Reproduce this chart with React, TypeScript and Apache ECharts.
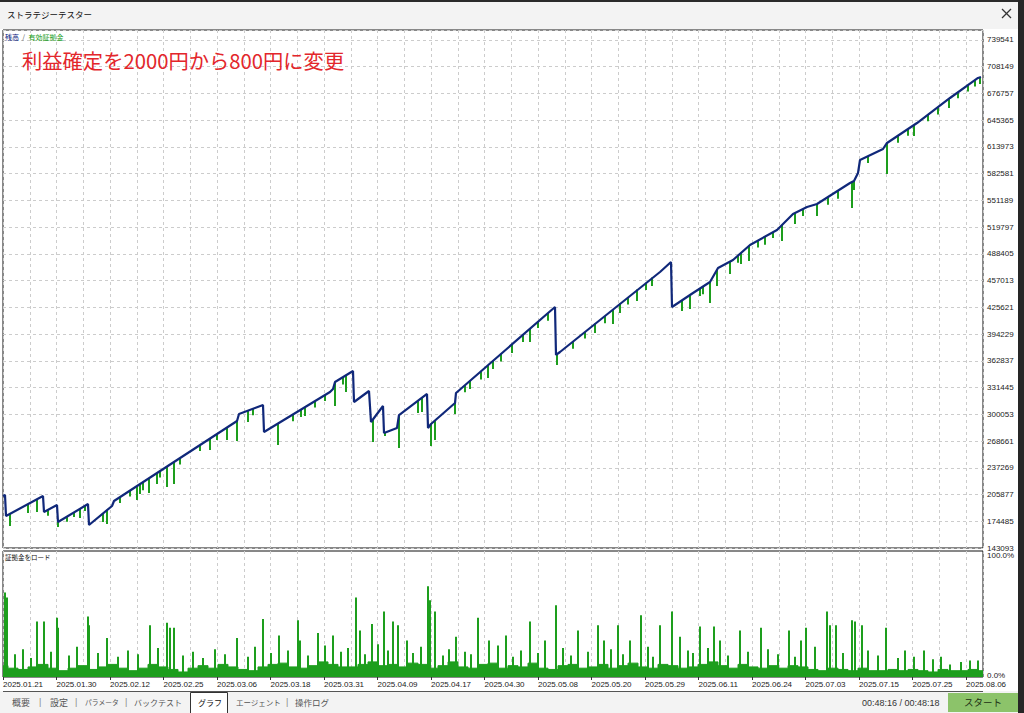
import React, { useEffect, useRef } from 'react';
import * as echarts from 'echarts';

// ---- data ----
const dateLabels = [
  '2025.01.21', '2025.01.30', '2025.02.12', '2025.02.25', '2025.03.06', '2025.03.18',
  '2025.03.31', '2025.04.09', '2025.04.17', '2025.04.30', '2025.05.08', '2025.05.20',
  '2025.05.29', '2025.06.11', '2025.06.24', '2025.07.03', '2025.07.15', '2025.07.25', '2025.08.06',
];

const balanceX = [0, 2, 3, 40, 41, 54, 55, 85, 86, 109, 111, 234, 236, 260, 261, 327, 330, 332, 350, 351,
  366, 368, 380, 381, 394, 396, 424, 425, 428, 452, 453, 552, 553, 557, 657, 668, 669, 690, 707, 715,
  730, 747, 774, 787, 790, 804, 814, 847, 851, 855, 857, 880, 884, 914, 947, 975, 978];
const balanceY = [204100, 205300, 180700, 204100, 185400, 193600, 173600, 194700, 170100, 192400,
  198300, 292200, 300400, 311000, 279300, 326200, 329800, 338000, 350900, 314500,
  327400, 291000, 309800, 278100, 284000, 299200, 323900, 284000, 288700, 313300,
  325100, 426000, 369700, 373200, 467100, 478900, 426000, 442500, 455400, 471800,
  481200, 498800, 516400, 531700, 535200, 543400, 546900, 571600, 574000, 583300,
  598600, 611500, 618600, 642000, 671400, 694900, 696000];

// equity dips: deal, equity before dip, equity low
const dipX = [7, 25, 34, 55, 71, 77, 100, 104, 134, 137, 146, 154, 164, 171, 207, 224, 234, 245, 275, 302,
  322, 332, 343, 370, 382, 396, 415, 419, 428, 432, 452, 467, 485, 490, 509, 527, 535, 554, 592, 610,
  617, 634, 649, 679, 687, 697, 707, 714, 727, 738, 746, 770, 779, 792, 814, 849, 851, 884, 911, 946, 977,
  45, 64, 82, 117, 127, 140, 157, 177, 197, 214, 250, 290, 298, 312, 340, 462, 478, 498, 520, 545,
  570, 582, 602, 625, 643, 700, 735, 755, 762, 800, 825, 835, 865, 895, 905, 925, 935, 955, 965, 972];
const dipHigh = [183000, 194700, 199400, 174800, 185400, 188900, 183700, 187700, 215900, 218200,
  225300, 231100, 238700, 244100, 271100, 284000, 292200, 304400, 289300, 308600,
  322700, 338000, 346200, 294200, 278600, 299200, 316000, 319500, 288700, 292800,
  313300, 339400, 357700, 362900, 382100, 400600, 408700, 369700, 406700, 423800,
  430400, 446600, 460800, 433900, 439300, 447700, 455400, 469800, 479300, 489500,
  497800, 513800, 522300, 536400, 546900, 572800, 574000, 618600, 639700, 670500, 695200,
  187900, 179900, 192600, 202900, 210500, 220400, 233400, 248700, 263900, 276900,
  306600, 299900, 305600, 315500, 343700, 334300, 350600, 371000, 393400, 418900,
  385400, 396700, 415500, 437100, 454000, 450100, 486400, 504000, 508600, 541100,
  555100, 562600, 603100, 627200, 635000, 651800, 660700, 678100, 686500, 692400];
const dipLow = [168900, 184200, 185400, 167700, 179500, 178300, 173600, 171300, 199400, 206500,
  207700, 218200, 214700, 218200, 258100, 269900, 268700, 291000, 264000, 298100,
  315700, 309800, 326200, 267500, 274600, 260500, 301600, 302800, 262800, 269900,
  300400, 329800, 342700, 353200, 372000, 384900, 401400, 357900, 395500, 406100,
  419000, 433100, 450700, 421300, 423700, 438900, 430700, 450700, 464800, 476500,
  480000, 507000, 503500, 523500, 532900, 542300, 563400, 582200, 626800, 659700, 687800,
  181000, 174000, 186500, 196000, 203500, 211000, 226000, 241000, 257000, 270000,
  299000, 292000, 297000, 308000, 335000, 326000, 341000, 362000, 385000, 410000,
  377000, 389000, 407000, 429000, 446000, 441000, 478000, 496000, 499000, 533000,
  546000, 553000, 595000, 619000, 627000, 644000, 652000, 671000, 679000, 685000];

// margin load (%), background level sampled every 10 deals
const loadBase = [9, 7, 6, 8, 10, 7, 5, 7, 9, 6, 8, 10, 7, 5, 7, 10, 8, 6, 4, 7,
  9, 7, 10, 8, 6, 5, 8, 10, 11, 8, 7, 9, 12, 10, 8, 8, 10, 12, 9, 10,
  8, 11, 10, 7, 9, 12, 8, 7, 10, 11, 7, 9, 8, 11, 7, 6, 9, 10, 7, 8,
  10, 7, 9, 11, 8, 7, 10, 9, 7, 8, 10, 12, 9, 7, 10, 8, 7, 9, 7, 9,
  8, 6, 5, 7, 6, 5, 7, 5, 5, 6, 5, 6, 5, 4, 6, 5, 5, 6, 5];
const loadSpikeX = [2, 4, 34, 41, 54, 55, 85, 86, 104, 147, 164, 167, 171, 234, 260, 276, 295, 297, 315, 330,
  353, 357, 369, 381, 390, 395, 404, 425, 427, 432, 453, 475, 486, 503, 527, 542, 553, 575, 595, 601,
  615, 627, 638, 657, 669, 677, 697, 711, 717, 737, 758, 786, 798, 803, 824, 827, 833, 849, 852, 859,
  883, 902, 911, 921, 938, 947, 967];
const loadSpikeY = [67, 63, 44, 44, 47, 39, 48, 41, 31, 41, 43, 39, 39, 31, 46, 33, 45, 29, 35, 33,
  63, 37, 42, 52, 44, 41, 29, 72, 61, 52, 32, 47, 29, 33, 44, 29, 57, 37, 41, 29,
  41, 29, 49, 41, 52, 32, 40, 40, 29, 37, 39, 37, 29, 39, 52, 41, 41, 45, 44, 41,
  39, 21, 16, 21, 16, 10, 13];
const loadMidX = [12, 20, 28, 48, 66, 74, 95, 115, 125, 135, 155, 180, 190, 200, 212, 222, 245, 252, 268, 285,
  305, 322, 338, 345, 362, 375, 385, 410, 418, 440, 446, 462, 468, 495, 510, 518, 535, 560, 568, 585,
  608, 620, 645, 650, 685, 690, 705, 725, 745, 765, 775, 792, 812, 840, 865, 875, 895, 930, 958, 975];
const loadMidY = [18, 22, 15, 20, 17, 24, 19, 16, 21, 18, 23, 17, 20, 15, 22, 18, 16, 24, 19, 21,
  17, 25, 20, 23, 18, 26, 21, 19, 24, 17, 22, 20, 18, 25, 16, 21, 19, 23, 17, 20,
  22, 18, 24, 16, 21, 19, 23, 17, 20, 22, 18, 16, 24, 19, 21, 17, 15, 14, 12, 13];

const yMin = 143093;
const yStep = 31392;
const yMax = 751225;
const xMax = 980;
const xGrid = 26.75;

const CJK = 'Noto Sans CJK JP';
const LAT = 'Liberation Sans';
const GREEN = '#1d9e1d';
const NAVY = '#10287a';
const gridLine = { show: true, lineStyle: { color: '#cccccc', type: [3, 3] as any, width: 1 } };

export default function App() {
  const ref = useRef<HTMLDivElement>(null);
  useEffect(() => {
    const chart = echarts.init(ref.current!, null, { renderer: 'svg' });
    const tabText = (x: number, text: string, size: number, fill = '#555') => ({
      type: 'text', x, y: 702, style: { text, fontSize: size, fontFamily: CJK, fill, verticalAlign: 'middle' },
    });
    const sep = (x: number) => ({
      type: 'text', x, y: 702, style: { text: '|', fontSize: 9, fontFamily: LAT, fill: '#888', verticalAlign: 'middle' },
    });
    const option: any = {
      animation: false,
      backgroundColor: '#ffffff',
      grid: [
        { left: 3, top: 30, width: 980, height: 518, show: true, borderColor: '#111', borderWidth: 1, backgroundColor: '#fff' },
        { left: 3, top: 551, width: 980, height: 126, show: true, borderColor: '#111', borderWidth: 1, backgroundColor: '#fff' },
      ],
      xAxis: [
        {
          gridIndex: 0, type: 'value', min: 0, max: xMax, interval: xGrid,
          axisLabel: { show: false }, axisTick: { show: false }, axisLine: { show: false },
          splitLine: gridLine,
        },
        {
          gridIndex: 1, type: 'value', min: 0, max: xMax, interval: xGrid * 2,
          axisLine: { show: false },
          axisTick: { show: true, length: 3, lineStyle: { color: '#333' } },
          axisLabel: {
            show: true, align: 'left', margin: 3, fontSize: 8, color: '#222', fontFamily: LAT,
            showMaxLabel: false,
            formatter: (v: number) => {
              const i = Math.round(v / (xGrid * 2));
              return Math.abs(v - i * xGrid * 2) < 0.01 && i < dateLabels.length ? dateLabels[i] : '';
            },
          },
          splitLine: gridLine,
          minorTick: { show: false, splitNumber: 2 },
          minorSplitLine: gridLine,
        },
      ],
      yAxis: [
        {
          gridIndex: 0, type: 'value', position: 'right', min: yMin, max: yMax, interval: yStep,
          axisLine: { show: false }, axisTick: { show: false },
          axisLabel: {
            margin: 4, fontSize: 8, color: '#222', fontFamily: LAT, showMaxLabel: false,
            formatter: (v: number) => String(Math.round(v)),
          },
          splitLine: gridLine,
        },
        {
          gridIndex: 1, type: 'value', position: 'right', min: 0, max: 100, interval: 100,
          axisLine: { show: false }, axisTick: { show: false }, splitLine: { show: false },
          axisLabel: {
            margin: 4, fontSize: 8, color: '#222', fontFamily: LAT,
            formatter: (v: number) => (v >= 100 ? '{t|100.0%}' : '{b|0.0%}'),
            rich: {
              t: { fontSize: 8, color: '#222', fontFamily: LAT, padding: [8, 0, 0, 0] },
              b: { fontSize: 8, color: '#222', fontFamily: LAT, padding: [0, 0, 3, 0] },
            },
          },
        },
      ],
      series: [
        {
          type: 'line', xAxisIndex: 1, yAxisIndex: 1, step: 'middle', symbol: 'none', silent: true,
          data: loadBase.map((v, i) => [i * 10, v]),
          lineStyle: { width: 1, color: GREEN }, areaStyle: { color: GREEN, opacity: 1 },
        },
        {
          type: 'bar', xAxisIndex: 1, yAxisIndex: 1, barWidth: 2, silent: true, barGap: '-100%',
          data: loadMidX.map((x, i) => [x, loadMidY[i]]),
          itemStyle: { color: GREEN },
        },
        {
          type: 'bar', xAxisIndex: 1, yAxisIndex: 1, barWidth: 2, silent: true, barGap: '-100%',
          data: loadSpikeX.map((x, i) => [x, loadSpikeY[i]]),
          itemStyle: { color: GREEN },
        },
        {
          type: 'custom', xAxisIndex: 0, yAxisIndex: 0, silent: true, z: 2,
          data: dipX.map((x, i) => [x, dipHigh[i], dipLow[i]]),
          encode: { x: 0, y: [1, 2] },
          renderItem: (_p: any, api: any) => {
            const a = api.coord([api.value(0), api.value(1)]);
            const b = api.coord([api.value(0), api.value(2)]);
            return {
              type: 'line',
              shape: { x1: a[0], y1: a[1], x2: b[0], y2: b[1] },
              style: { stroke: GREEN, lineWidth: 2 },
            };
          },
        },
        {
          type: 'line', xAxisIndex: 0, yAxisIndex: 0, symbol: 'none', silent: true, z: 3,
          data: balanceX.map((x, i) => [x, balanceY[i]]),
          lineStyle: { width: 2.2, color: NAVY },
        },
      ],
      graphic: [
        { type: 'rect', shape: { x: 0, y: 0, width: 1024, height: 29 }, style: { fill: '#f3f3f3' }, z: -1 },
        { type: 'rect', shape: { x: 0, y: 0, width: 1024, height: 2 }, style: { fill: '#2a2a2a' } },
        { type: 'rect', shape: { x: 1018, y: 0, width: 6, height: 713 }, style: { fill: '#262626' } },
        { type: 'text', x: 7, y: 14, style: { text: 'ストラテジーテスター', fontSize: 8.5, fontFamily: CJK, fill: '#111', verticalAlign: 'middle' } },
        { type: 'line', shape: { x1: 1002, y1: 9, x2: 1011, y2: 18 }, style: { stroke: '#333', lineWidth: 1.2 } },
        { type: 'line', shape: { x1: 1011, y1: 9, x2: 1002, y2: 18 }, style: { stroke: '#333', lineWidth: 1.2 } },
        {
          type: 'text', x: 5, y: 37, z: 10,
          style: {
            text: '{a|残高} {s|/} {b|有効証拠金}', verticalAlign: 'middle',
            rich: {
              a: { fontSize: 7, fontFamily: CJK, fill: '#00127a' },
              s: { fontSize: 7, fontFamily: CJK, fill: '#555' },
              b: { fontSize: 7, fontFamily: CJK, fill: '#129a12' },
            },
          },
        },
        { type: 'text', x: 22, y: 60, z: 10, style: { text: '利益確定を2000円から800円に変更', fontSize: 20.3, fontFamily: CJK, fill: '#e3262b', verticalAlign: 'middle' } },
        { type: 'text', x: 5, y: 557, z: 10, style: { text: '証拠金をロード', fontSize: 6.5, fontFamily: CJK, fill: '#111', verticalAlign: 'middle' } },
        // tab bar
        { type: 'rect', shape: { x: 0, y: 691, width: 1018, height: 22 }, style: { fill: '#f3f3f3' }, z: -1 },
        { type: 'line', shape: { x1: 3, y1: 691.5, x2: 983, y2: 691.5 }, style: { stroke: '#555', lineWidth: 1 } },
        { type: 'rect', shape: { x: 190, y: 692, width: 38, height: 21 }, style: { fill: '#ffffff' } },
        { type: 'polyline', shape: { points: [[190.5, 713], [190.5, 692.5], [227.5, 692.5], [227.5, 713]] }, style: { stroke: '#333', fill: 'none', lineWidth: 1 } },
        tabText(12, '概要', 9),
        sep(39),
        tabText(50, '設定', 9),
        sep(75),
        tabText(85, 'パラメータ', 6.8),
        sep(125),
        tabText(134, 'バックテスト', 8),
        tabText(198, 'グラフ', 8, '#111'),
        tabText(236, 'エージェント', 7.5),
        sep(286),
        tabText(295, '操作ログ', 8.5),
        { type: 'text', x: 862, y: 703, style: { text: '00:48:16 / 00:48:18', fontSize: 9, fontFamily: LAT, fill: '#333', verticalAlign: 'middle' } },
        { type: 'rect', shape: { x: 948, y: 693, width: 70, height: 19 }, style: { fill: '#8cc36a' } },
        { type: 'text', x: 983, y: 702, style: { text: 'スタート', fontSize: 9.5, fontFamily: CJK, fill: '#1c2e14', align: 'center', verticalAlign: 'middle' } },
      ],
    };
    chart.setOption(option);
    return () => chart.dispose();
  }, []);
  return <div ref={ref} style={{ position: 'fixed', left: 0, top: 0, width: 1024, height: 713 }} />;
}
